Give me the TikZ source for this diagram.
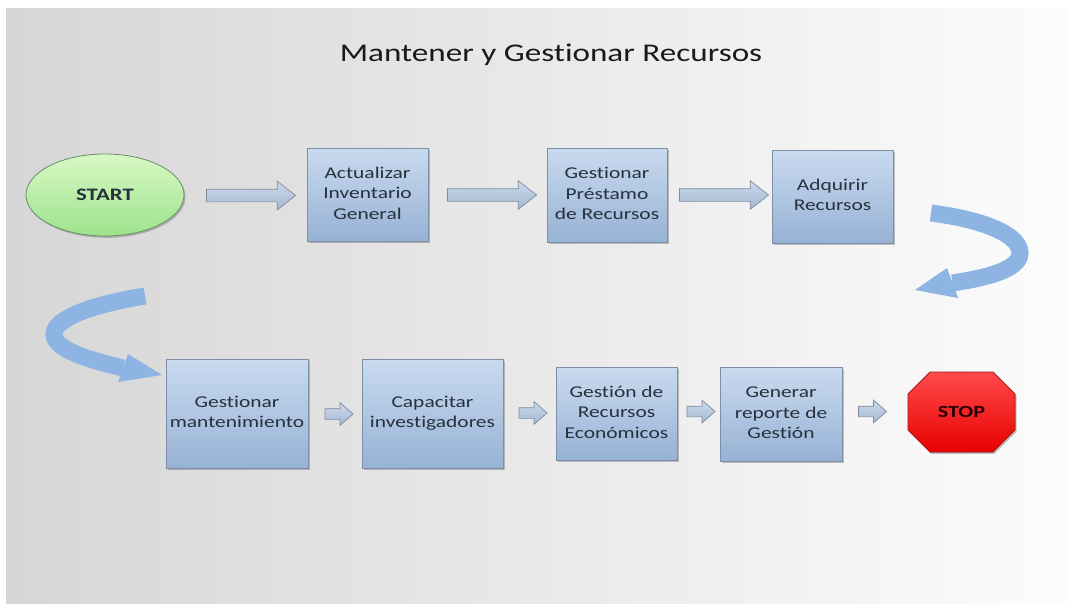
\documentclass[tikz,border=0pt]{standalone}
\usepackage{fontspec}
\setmainfont[Ligatures=NoCommon,RawFeature={-liga;-dlig}]{Carlito}
\usepackage{graphicx}
\usetikzlibrary{shapes.arrows,shapes.geometric,shadows,calc}

\definecolor{bgleft}{HTML}{D6D6D6}
\definecolor{bgright}{HTML}{FCFCFC}
\definecolor{boxtop}{HTML}{C9DAEF}
\definecolor{boxbot}{HTML}{97B2D5}
\definecolor{boxline}{HTML}{7D8EA5}
\definecolor{arrowtop}{HTML}{CCDAEC}
\definecolor{arrowbot}{HTML}{A3B8D3}
\definecolor{arrowline}{HTML}{7F8C9C}
\definecolor{curvecol}{HTML}{8DB4E3}
\definecolor{labeltext}{HTML}{27313D}
\definecolor{titletext}{HTML}{1A1A1A}
\definecolor{greentop}{HTML}{D8F8C6}
\definecolor{greenbot}{HTML}{9DE38B}
\definecolor{greenline}{HTML}{6A8E6B}
\definecolor{redtop}{HTML}{FF4A4A}
\definecolor{redbot}{HTML}{E80000}
\definecolor{redline}{HTML}{A81818}

% Calibri-like text, widened to the proportions of the slide
\newcommand{\wide}[1]{\scalebox{1.3}[1]{#1}}
\newcommand{\lines}[1]{\wide{\begin{tabular}{@{}c@{}}#1\end{tabular}}}

\begin{document}
\begin{tikzpicture}[x=1pt,y=-1pt,
  softshadow/.style={drop shadow={shadow xshift=1.5pt,shadow yshift=-1.8pt,opacity=0.22,fill=black}},
  stepbox/.style={rectangle,draw=boxline,line width=0.8pt,top color=boxtop,bottom color=boxbot,
    inner sep=0pt,text=labeltext,font=\fontsize{16.5}{20.5}\selectfont,softshadow},
  bigarrow/.style={shape=single arrow,draw=arrowline,line width=0.7pt,top color=arrowtop,bottom color=arrowbot,
    inner xsep=0pt,inner ysep=6pt,outer sep=0pt,single arrow head extend=8pt,
    single arrow tip angle=76,minimum height=89pt},
  smallarrow/.style={bigarrow,inner ysep=5pt,single arrow head extend=6pt,
    single arrow tip angle=82,minimum height=28pt},
  bandline/.style={draw=curvecol,line width=17pt,line cap=butt},
  bandhead/.style={fill=curvecol},
  ]
\useasboundingbox (0,0) rectangle (1066,603);

% slide background
\fill[white] (0,0) rectangle (1066,603);
\shade[left color=bgleft,right color=bgright] (6,8) rectangle (1066,603);

% title
\node[text=titletext,font=\fontsize{25.5}{30}\selectfont] (title) at (551,55) {\wide{Mantener y Gestionar Recursos}};

% first row
\node[ellipse,draw=greenline,line width=0.8pt,top color=greentop,bottom color=greenbot,
  minimum width=158pt,minimum height=82pt,inner sep=0pt,text=labeltext,
  font=\fontsize{17.5}{20}\selectfont\bfseries,softshadow] (start) at (105,195) {\wide{START}};
\node[stepbox,minimum width=121pt,minimum height=93pt] (act) at (367.5,194.5) {\lines{Actualizar\\Inventario\\General}};
\node[stepbox,minimum width=120pt,minimum height=94pt] (pres) at (607,195) {\lines{Gestionar\\Préstamo\\de Recursos}};
\node[stepbox,minimum width=121pt,minimum height=93pt] (adq) at (832.5,196.5) {\lines{Adquirir\\Recursos}};

\node[bigarrow] (a1) at (247,195.5) {};
\node[bigarrow] (a2) at (488,195) {};
\node[bigarrow] (a3) at (720,195) {};

% second row
\node[stepbox,minimum width=142pt,minimum height=109pt] (mant) at (237,413.5) {\lines{Gestionar\\mantenimiento}};
\node[stepbox,minimum width=141pt,minimum height=109pt] (cap) at (432.5,413.5) {\lines{Capacitar\\investigadores}};
\node[stepbox,minimum width=121pt,minimum height=93pt] (eco) at (616.5,413.5) {\lines{Gestión de\\Recursos\\Económicos}};
\node[stepbox,minimum width=122pt,minimum height=94pt] (rep) at (781,414) {\lines{Generar\\reporte de\\Gestión}};

% stop sign
\coordinate (stopc) at (961.5,412);
\filldraw[draw=redline,line width=0.8pt,top color=redtop,bottom color=redbot,softshadow]
  ($(stopc)+(-31.5,-40)$) -- ($(stopc)+(31.5,-40)$) -- ($(stopc)+(53.5,-18)$) -- ($(stopc)+(53.5,18)$)
  -- ($(stopc)+(31.5,40)$) -- ($(stopc)+(-31.5,40)$) -- ($(stopc)+(-53.5,18)$) -- ($(stopc)+(-53.5,-18)$) -- cycle;
\node[text=black!85!red,font=\fontsize{17}{20}\selectfont\bfseries] (stop) at (stopc) {\wide{STOP}};

\node[smallarrow] (b1) at (336,414) {};
\node[smallarrow] (b2) at (530,413) {};
\node[smallarrow] (b3) at (698,411.5) {};
\node[smallarrow] (b4) at (869.5,411.5) {};

% curved link from the first row down to the second
\coordinate (r0) at (931,213);
\coordinate (r1) at (952.5,283);
\coordinate (rtip) at (915,290);
\draw[bandline] (r0) .. controls (985,220) and (1020,235) .. (1020,253)
  .. controls (1020,270) and (985,278) .. (r1);
\fill[bandhead] (947,268) -- (rtip) -- (958,298) -- cycle;

\coordinate (l0) at (145,296);
\coordinate (l1) at (123,368);
\coordinate (ltip) at (162,375);
\draw[bandline] (l0) .. controls (95,304) and (54,318) .. (54,334)
  .. controls (54,350) and (90,360) .. (l1);
\fill[bandhead] (128,354) -- (ltip) -- (118,382) -- cycle;
\end{tikzpicture}
\end{document}
